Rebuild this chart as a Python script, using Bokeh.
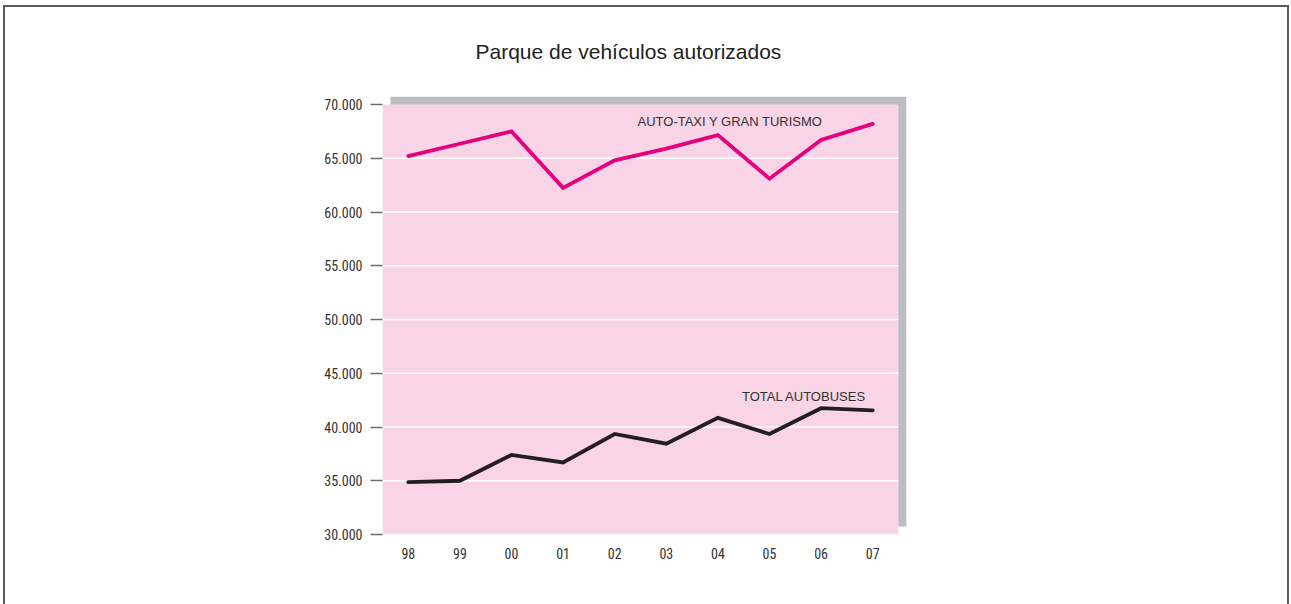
from bokeh.plotting import figure
from bokeh.models import Range1d, FixedTicker, Label, InlineStyleSheet
from bokeh.embed import file_html
from bokeh.resources import INLINE

# ---- data ----
years = ["98", "99", "00", "01", "02", "03", "04", "05", "06", "07"]
taxi = [65200, 66350, 67500, 62250, 64800, 65900, 67150, 63100, 66700, 68200]
buses = [34870, 35000, 37400, 36700, 39350, 38450, 40850, 39350, 41750, 41550]
y_ticks = [30000, 35000, 40000, 45000, 50000, 55000, 60000, 65000, 70000]
y_tick_labels = ["30.000", "35.000", "40.000", "45.000", "50.000", "55.000", "60.000", "65.000", "70.000"]
title_text = "Parque de vehículos autorizados"
taxi_label = "AUTO-TAXI Y GRAN TURISMO"
bus_label = "TOTAL AUTOBUSES"

# ---- geometry ----
W, H = 1289, 598
FL, FT = 382, 96
frame_w, frame_h = 524, 438
FR = W - FL - frame_w
FB = H - FT - frame_h
SH = 8                                      # shadow offset (px)
n = len(years)
x0, x1 = -0.5, n - 0.5
y0, y1 = y_ticks[0], y_ticks[-1]
ux = (x1 - x0) / (frame_w - SH)
uy = (y1 - y0) / (frame_h - SH)
x_end = x1 + SH * ux
y_end = y1 + SH * uy
xs = list(range(n))

border_css = InlineStyleSheet(css="""
:host::after {
  content: "";
  position: absolute;
  left: 3px; top: 5px; right: 0px; bottom: -20px;
  border: 2px solid #5c5c5c;
  border-bottom: none;
  pointer-events: none;
}
""")

p = figure(width=W, height=H, x_range=Range1d(x0, x_end), y_range=Range1d(y0, y_end),
           output_backend="svg", toolbar_location=None,
           min_border_left=FL, min_border_right=FR, min_border_top=FT, min_border_bottom=FB,
           stylesheets=[border_css])
p.outline_line_color = None
p.xgrid.visible = False
p.ygrid.visible = False
p.background_fill_color = "white"
p.border_fill_color = "white"

# shadow and plot panel
p.quad(left=[x0 + SH * ux], right=[x1 + SH * ux], bottom=[y0 + SH * uy], top=[y1 + SH * uy],
       fill_color="#bdbdc1", line_color=None)
p.quad(left=[x0], right=[x1], bottom=[y0], top=[y1], fill_color="#f8d4e6", line_color=None)

# white grid lines
gy = y_ticks[1:-1]
p.segment(x0=[x0] * len(gy), x1=[x1] * len(gy), y0=gy, y1=gy, line_color="white", line_width=1.5)

# series
p.line(xs, taxi, line_color="#e5007e", line_width=3.8, line_join="miter", line_cap="round")
p.line(xs, buses, line_color="#231f20", line_width=3.8, line_join="miter", line_cap="round")

lab_font = "Liberation Sans"
p.add_layout(Label(x=x0 + 255 * ux, y=y0 + 412.8 * uy, text=taxi_label, text_font=lab_font,
                   text_font_size="13px", text_color="#333333", text_baseline="alphabetic"))
p.add_layout(Label(x=x0 + 359.5 * ux, y=y0 + 138.5 * uy, text=bus_label, text_font=lab_font,
                   text_font_size="13px", text_color="#333333", text_baseline="alphabetic"))

tick_font = "Liberation Sans Narrow, Arial Narrow, Roboto Condensed, sans-serif"

# axes
p.xaxis.ticker = FixedTicker(ticks=xs)
p.xaxis.major_label_overrides = {i: y for i, y in enumerate(years)}
p.xaxis.axis_line_color = None
p.xaxis.major_tick_line_color = None
p.xaxis.minor_tick_line_color = None
p.xaxis.major_label_standoff = 7
p.xaxis.major_label_text_font = tick_font
p.xaxis.major_label_text_font_size = "14px"
p.xaxis.major_label_text_color = "#333333"

p.yaxis.ticker = FixedTicker(ticks=y_ticks)
p.yaxis.major_label_overrides = {t: l for t, l in zip(y_ticks, y_tick_labels)}
p.yaxis.axis_line_color = None
p.yaxis.minor_tick_line_color = None
p.yaxis.major_tick_in = 0
p.yaxis.major_tick_out = 12
p.yaxis.major_tick_line_color = "#6d6d6d"
p.yaxis.major_tick_line_width = 1.5
p.yaxis.major_label_standoff = 8
p.yaxis.major_label_text_font = tick_font
p.yaxis.major_label_text_font_size = "14px"
p.yaxis.major_label_text_color = "#333333"

# title
p.title.text = title_text
p.title.align = "left"
p.title.offset = 93
p.title.standoff = 67
p.title.text_font = lab_font
p.title.text_font_size = "21px"
p.title.text_font_style = "normal"
p.title.text_color = "#222222"

open("out.html", "w").write(file_html(p, INLINE))
